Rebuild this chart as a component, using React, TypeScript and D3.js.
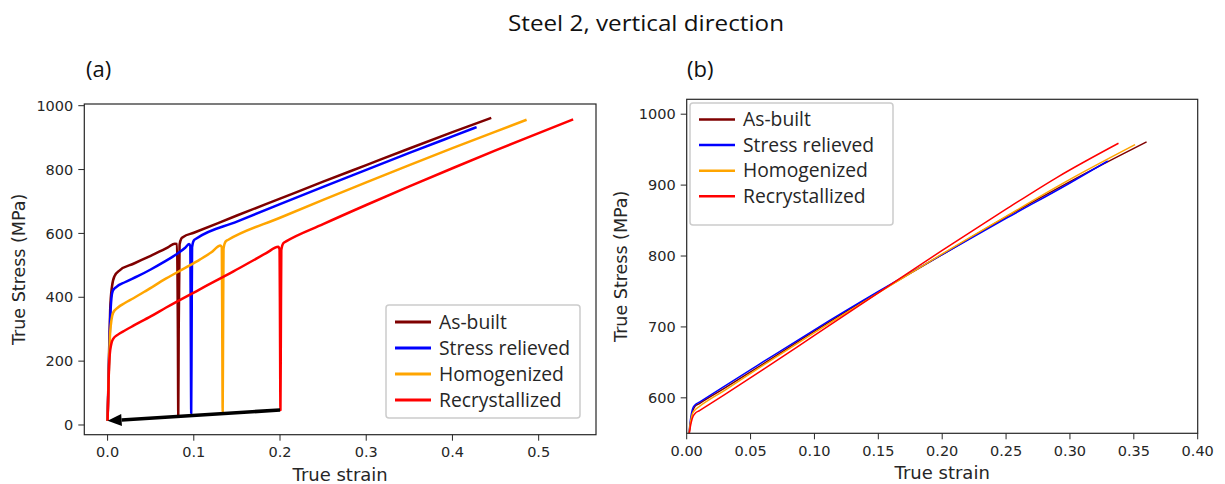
import React from "react";
import * as d3 from "d3";

// ---------- data ----------
const seriesNames = ["As-built", "Stress relieved", "Homogenized", "Recrystallized"];
const seriesColors = ["#7f0000", "#0000ff", "#ffa500", "#ff0000"];

// Panel (a): [true strain, true stress MPa]
const asBuiltA: [number, number][] = [
  [0, 13], [0.0015, 200], [0.003, 360], [0.005, 432], [0.008, 466], [0.0144, 485], [0.03, 505],
  [0.05, 530], [0.07, 556], [0.078, 568], [0.0805, 567], [0.0815, 300], [0.082, 31],
  [0.0825, 300], [0.0835, 565], [0.0855, 584], [0.0877, 589], [0.1, 602], [0.15, 656], [0.2, 709],
  [0.25, 762], [0.3, 814], [0.35, 866], [0.4, 917], [0.445, 962],
];
const stressRelievedA: [number, number][] = [
  [0, 13], [0.0015, 180], [0.003, 330], [0.0045, 398], [0.006, 420], [0.01, 432], [0.02, 447],
  [0.035, 466], [0.05, 487], [0.065, 510], [0.08, 535], [0.09, 555], [0.0945, 567], [0.096, 560],
  [0.0965, 300], [0.097, 37], [0.0975, 300], [0.098, 556], [0.1, 578], [0.103, 584], [0.15, 637],
  [0.2, 692], [0.25, 746], [0.3, 799], [0.35, 852], [0.4, 904], [0.428, 933],
];
const homogenizedA: [number, number][] = [
  [0, 13], [0.0015, 170], [0.003, 290], [0.0065, 352], [0.012, 368], [0.02, 382], [0.03, 397],
  [0.045, 421], [0.068, 459], [0.09, 492], [0.107, 518], [0.12, 540], [0.131, 562], [0.1325, 556],
  [0.133, 300], [0.1335, 42], [0.134, 300], [0.1345, 552], [0.137, 575], [0.14, 580], [0.2, 649],
  [0.25, 705], [0.3, 760], [0.35, 814], [0.4, 867], [0.45, 919], [0.486, 956],
];
const recrystallizedA: [number, number][] = [
  [0, 13], [0.001, 120], [0.002, 200], [0.004, 250], [0.0065, 270], [0.012, 283], [0.02, 296],
  [0.03, 311], [0.05, 340], [0.068, 368], [0.107, 425], [0.146, 481], [0.184, 538], [0.198, 558], [0.1995, 550],
  [0.2, 300], [0.2005, 47], [0.201, 300], [0.2015, 548], [0.204, 570], [0.207, 575], [0.25, 629],
  [0.3, 689], [0.35, 747], [0.4, 804], [0.45, 860], [0.5, 914], [0.54, 957],
];
const arrowFrom: [number, number] = [0.2, 47];
const arrowTo: [number, number] = [0.0, 13];

// Panel (b): [true strain, true stress MPa]
const asBuiltB: [number, number][] = [
  [0.002, 550], [0.003, 565], [0.0045, 580], [0.0065, 588], [0.01, 592], [0.03, 614], [0.06, 648],
  [0.1, 694], [0.15, 749], [0.2, 802], [0.25, 855], [0.3, 905], [0.36, 961],
];
const stressRelievedB: [number, number][] = [
  [0.0018, 550], [0.003, 570], [0.0045, 584], [0.0065, 590], [0.01, 594], [0.03, 617], [0.06, 651],
  [0.1, 696], [0.15, 750], [0.2, 802], [0.25, 853], [0.3, 903], [0.3296, 934],
];
const homogenizedB: [number, number][] = [
  [0.0018, 550], [0.003, 566], [0.0045, 578], [0.0065, 583], [0.01, 588], [0.03, 611], [0.06, 646],
  [0.1, 692], [0.15, 748], [0.2, 803], [0.25, 856], [0.3, 908], [0.351, 957],
];
const recrystallizedB: [number, number][] = [
  [0.002, 550], [0.0035, 565], [0.005, 574], [0.0065, 578], [0.01, 582], [0.03, 605], [0.06, 640],
  [0.1, 688], [0.15, 748], [0.2, 808], [0.25, 866], [0.29, 911], [0.338, 959],
];

const xTicksA = [0, 0.1, 0.2, 0.3, 0.4, 0.5];
const yTicksA = [0, 200, 400, 600, 800, 1000];
const xTicksB = [0, 0.05, 0.1, 0.15, 0.2, 0.25, 0.3, 0.35, 0.4];
const yTicksB = [600, 700, 800, 900, 1000];

const seriesA = [asBuiltA, stressRelievedA, homogenizedA, recrystallizedA];
const seriesB = [asBuiltB, stressRelievedB, homogenizedB, recrystallizedB];

// ---------- layout ----------
const W = 1225;
const H = 484;
const tickFont = "'DejaVu Sans', sans-serif";
const textFont = "'Open Sans', sans-serif";
const axisColor = "#262626";

type Scale = d3.ScaleLinear<number, number>;

function Axes({ x, y, xTicks, yTicks, xFmt, yFmt, id }: { x: Scale; y: Scale; xTicks: number[]; yTicks: number[]; xFmt: (v: number) => string; yFmt: (v: number) => string; id: string }) {
  const [x0, x1] = x.range();
  const [y0, y1] = y.range();
  return (
    <g>
      <defs>
        <clipPath id={id}>
          <rect x={x0} y={y1} width={x1 - x0} height={y0 - y1} />
        </clipPath>
      </defs>
      {xTicks.map((t) => (
        <g key={"x" + t}>
          <line x1={x(t)} x2={x(t)} y1={y0} y2={y0 + 6} stroke={axisColor} strokeWidth={1} />
          <text x={x(t)} y={y0 + 22.5} textAnchor="middle" fontFamily={tickFont} fontSize={14.5} fill={axisColor}>{xFmt(t)}</text>
        </g>
      ))}
      {yTicks.map((t) => (
        <g key={"y" + t}>
          <line x1={x0 - 6} x2={x0} y1={y(t)} y2={y(t)} stroke={axisColor} strokeWidth={1} />
          <text x={x0 - 11} y={y(t)} dy="0.36em" textAnchor="end" fontFamily={tickFont} fontSize={14.5} fill={axisColor}>{yFmt(t)}</text>
        </g>
      ))}
    </g>
  );
}

function Frame({ x, y }: { x: Scale; y: Scale }) {
  const [x0, x1] = x.range();
  const [y0, y1] = y.range();
  return <rect x={x0} y={y1} width={x1 - x0} height={y0 - y1} fill="none" stroke={axisColor} strokeWidth={1.2} />;
}

function Legend({ left, top, width, height, rowY0, rowStep, handleX0, handleX1, textX, lw, fontSize }: any) {
  return (
    <g>
      <rect x={left} y={top} width={width} height={height} rx={3} fill="#fff" fillOpacity={0.85} stroke="#cccccc" strokeWidth={1.5} />
      {seriesNames.map((n, i) => (
        <g key={n}>
          <line x1={handleX0} x2={handleX1} y1={rowY0 + i * rowStep} y2={rowY0 + i * rowStep} stroke={seriesColors[i]} strokeWidth={lw} />
          <text x={textX} y={rowY0 + i * rowStep} dy="0.35em" fontFamily={textFont} fontSize={fontSize} fill="#262626">{n}</text>
        </g>
      ))}
    </g>
  );
}

export default function App() {
  const xA = d3.scaleLinear().domain([-0.027, 0.5665]).range([84.3, 596]);
  const yA = d3.scaleLinear().domain([-30.4, 1005.3]).range([434.7, 104]);
  const xB = d3.scaleLinear().domain([0, 0.4]).range([686.7, 1197.7]);
  const yB = d3.scaleLinear().domain([550, 1021]).range([433.3, 99.3]);

  const lineA = d3.line<[number, number]>().x((d) => xA(d[0])).y((d) => yA(d[1])).curve(d3.curveMonotoneX);
  const lineB = d3.line<[number, number]>().x((d) => xB(d[0])).y((d) => yB(d[1])).curve(d3.curveMonotoneX);

  // arrow geometry from scales
  const ax0 = xA(arrowFrom[0]), ay0 = yA(arrowFrom[1]);
  const ax1 = xA(arrowTo[0]), ay1 = yA(arrowTo[1]);
  const ang = Math.atan2(ay1 - ay0, ax1 - ax0);
  const headL = 14, headW = 6;
  const bx = ax1 - headL * Math.cos(ang), by = ay1 - headL * Math.sin(ang);
  const px = -Math.sin(ang), py = Math.cos(ang);
  const head = `M${ax1},${ay1} L${bx + px * headW},${by + py * headW} L${bx - px * headW},${by - py * headW} Z`;

  return (
    <svg width={W} height={H} style={{ position: "absolute", left: 0, top: 0, background: "#fff" }}>
      <rect width={W} height={H} fill="#fff" />
      <text x={646} y={31} textAnchor="middle" fontFamily={textFont} fontSize={22} fill="#111" textLength={276} lengthAdjust="spacingAndGlyphs">Steel 2, vertical direction</text>
      <text x={86} y={77} fontFamily={textFont} fontSize={22} fill="#111">(a)</text>
      <text x={687} y={77} fontFamily={textFont} fontSize={22} fill="#111">(b)</text>

      {/* Panel (a) */}
      <Axes x={xA} y={yA} xTicks={xTicksA} yTicks={yTicksA} xFmt={d3.format(".1f")} yFmt={d3.format("d")} id="clipA" />
      <g clipPath="url(#clipA)">
        {seriesA.map((s, i) => (
          <path key={i} d={lineA(s) || ""} fill="none" stroke={seriesColors[i]} strokeWidth={2.5} strokeLinejoin="round" />
        ))}
        <line x1={ax0} y1={ay0} x2={bx} y2={by} stroke="#000" strokeWidth={3.5} />
        <path d={head} fill="#000" />
      </g>
      <Frame x={xA} y={yA} />
      <Legend left={386} top={305} width={194} height={113} rowY0={322} rowStep={26} handleX0={395} handleX1={431} textX={439} lw={3} fontSize={19.3} />
      <text x={(84.3 + 596) / 2} y={481} textAnchor="middle" fontFamily={tickFont} fontSize={18} fill={axisColor}>True strain</text>
      <text transform={`translate(18.5,269.4) rotate(-90)`} dy="0.35em" textAnchor="middle" fontFamily={tickFont} fontSize={17.5} fill={axisColor}>True Stress (MPa)</text>

      {/* Panel (b) */}
      <Axes x={xB} y={yB} xTicks={xTicksB} yTicks={yTicksB} xFmt={d3.format(".2f")} yFmt={d3.format("d")} id="clipB" />
      <g clipPath="url(#clipB)">
        {seriesB.map((s, i) => (
          <path key={i} d={lineB(s) || ""} fill="none" stroke={seriesColors[i]} strokeWidth={1.5} strokeLinejoin="round" />
        ))}
      </g>
      <Frame x={xB} y={yB} />
      <Legend left={690} top={103} width={203} height={122} rowY0={119.5} rowStep={25.6} handleX0={699} handleX1={735} textX={743} lw={2.5} fontSize={19.3} />
      <text x={(686.7 + 1197.7) / 2} y={479} textAnchor="middle" fontFamily={tickFont} fontSize={18} fill={axisColor}>True strain</text>
      <text transform={`translate(620.5,266.3) rotate(-90)`} dy="0.35em" textAnchor="middle" fontFamily={tickFont} fontSize={17.5} fill={axisColor}>True Stress (MPa)</text>
    </svg>
  );
}
